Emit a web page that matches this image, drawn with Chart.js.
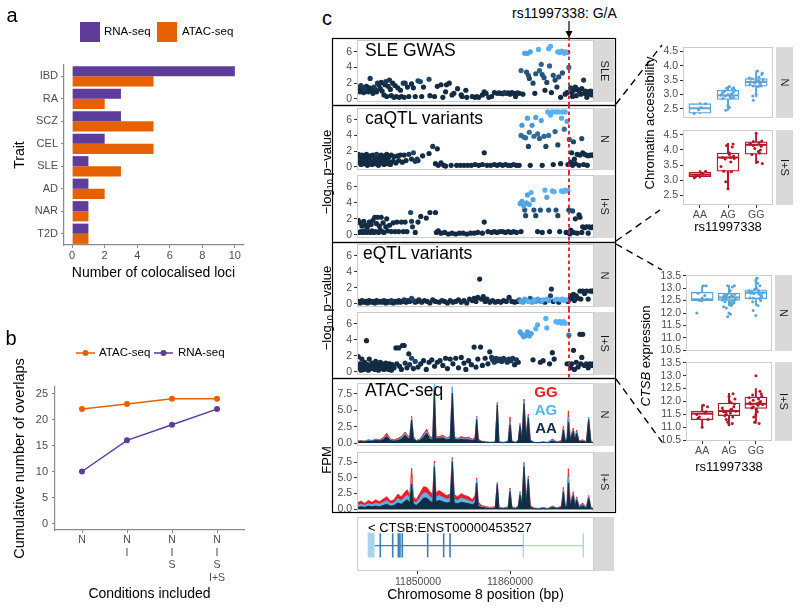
<!DOCTYPE html>
<html>
<head>
<meta charset="utf-8">
<script src="https://cdn.jsdelivr.net/npm/chart.js@4.4.1/dist/chart.umd.min.js"></script>
<style>
html, body { margin: 0; padding: 0; background: #fff; }
#fig { position: relative; width: 800px; height: 609px; overflow: hidden; font-family: "Liberation Sans", Arial, sans-serif; color: #000; }
#fig canvas { position: absolute; }
.lbl { position: absolute; white-space: nowrap; line-height: 1; }
.lbl sub { font-size: 70%; vertical-align: -0.25em; line-height: 0; }
</style>
</head>
<body>
<div id="fig"></div>
<script>
// ---------- panel a ----------
const traits = ['IBD', 'RA', 'SCZ', 'CEL', 'SLE', 'AD', 'NAR', 'T2D'];
const rnaLoci = [10, 3, 3, 2, 1, 1, 1, 1];
const atacLoci = [5, 2, 5, 5, 3, 2, 1, 1];
const lociTicks = [0, 2, 4, 6, 8, 10];

// ---------- panel b ----------
const conditions = [['N'], ['N', 'I'], ['N', 'I', 'S'], ['N', 'I', 'S', 'I+S']];
const atacOverlaps = [22, 23, 24, 24];
const rnaOverlaps = [10, 16, 19, 22];
const overlapTicks = [0, 5, 10, 15, 20, 25];

// ---------- panel c : locus ----------
const snpName = 'rs11997338';
const snpPos = 11866410;
const posTicks = [11850000, 11860000];
const logpTicks = [0, 2, 4, 6];
const fpmTicks = [0, 2.5, 5, 7.5];

// [position (kb), -log10 p, r2 with lead variant]
const gwasSLE = [
  [11843.5,1.2,0],[11843.6,1.5,0],[11843.7,0.9,0],[11843.8,1.7,0.1],[11843.9,1.1,0],[11844.0,1.4,0],[11844.1,0.8,0],
  [11844.2,1.3,0.1],[11844.3,1.0,0],[11844.4,1.6,0],[11844.5,1.2,0],[11844.6,0.9,0],[11844.7,1.4,0],[11844.8,2.6,0.1],
  [11844.9,1.1,0],[11845.0,1.3,0],[11845.1,0.7,0],[11845.2,1.5,0.1],[11845.35,1.2,0],[11845.5,0.9,0],[11845.6,2.0,0.1],
  [11845.75,1.8,0],[11845.9,1.3,0],[11846.0,2.1,0],[11846.1,1.0,0],[11846.3,0.5,0],[11846.4,1.8,0],[11846.5,2.2,0.1],
  [11846.6,0.3,0],[11846.75,1.6,0],[11846.9,2.4,0.1],[11847.0,1.2,0],[11847.1,0.4,0],[11847.25,2.0,0],[11847.4,0.2,0],
  [11847.5,1.7,0],[11847.65,0.3,0],[11847.8,1.4,0],[11847.95,0.2,0],[11848.1,1.1,0],[11848.2,0.3,0],[11848.4,2.0,0.1],
  [11848.5,0.2,0],[11848.6,2.0,0.1],[11848.85,1.5,0],[11849.0,0.3,0],[11849.3,1.9,0],[11849.5,1.4,0],[11849.7,0.3,0],
  [11850.0,2.3,0.2],[11850.25,2.2,0.2],[11850.4,0.3,0],[11850.6,1.5,0],[11851.2,2.5,0.2],[11851.3,0.4,0],[11851.8,0.3,0],
  [11852.1,1.6,0],[11852.5,1.8,0],[11852.7,0.2,0],[11853.0,0.9,0],[11853.1,1.8,0],[11853.4,2.0,0],[11853.7,0.5,0],
  [11853.9,0.7,0],[11854.3,1.3,0],[11854.7,0.5,0],[11854.8,0.3,0],[11855.2,1.1,0],[11855.3,0.2,0],[11855.9,0.3,0],
  [11856.2,0.2,0],[11856.4,0.3,0],[11856.6,0.2,0],[11857.0,0.5,0],[11857.2,0.9,0],[11857.4,0.7,0],[11857.7,0.2,0],
  [11858.0,0.3,0],[11858.3,0.8,0],[11858.6,0.7,0],[11858.8,0.75,0],[11859.0,0.7,0],[11859.2,0.65,0],[11859.4,0.8,0.1],
  [11859.6,0.7,0],[11859.8,0.75,0],[11860.0,0.6,0],[11860.2,0.8,0],[11860.4,0.7,0],[11860.6,0.3,0],[11860.8,0.75,0],
  [11861.0,0.7,0],[11861.2,3.6,0.4],[11861.4,0.6,0],[11861.6,5.8,0.9],[11861.8,3.4,0.3],[11861.9,5.8,0.9],[11862.0,3.0,0.3],
  [11862.1,2.6,0.2],[11862.2,6.0,0.9],[11862.5,2.0,0.2],[11862.7,0.7,0],[11862.8,3.2,0.3],[11863.1,6.3,1],[11863.2,3.6,0.4],
  [11863.4,4.4,0.4],[11863.5,3.1,0.3],[11863.7,2.7,0.3],[11863.8,1.1,0],[11864.0,2.1,0.2],[11864.2,6.4,1],[11864.3,4.2,0.4],
  [11864.4,6.7,1],[11864.5,0.8,0],[11864.7,3.0,0.3],[11864.9,2.4,0.2],[11865.1,1.5,0.1],[11865.2,6.0,1],[11865.3,2.8,0.3],
  [11865.4,5.9,1],[11865.5,0.2,0],[11865.6,6.1,1],[11865.7,3.3,0.3],[11865.8,6.0,1],[11865.9,5.8,1],[11866.0,0.6,0],
  [11866.1,6.0,1],[11866.2,0.8,0],[11866.3,5.9,1],[11866.4,4.0,0.5],[11866.6,1.4,0.1],[11866.7,0.8,0],[11866.8,0.3,0],
  [11866.9,1.1,0],[11867.1,1.5,0],[11867.2,0.4,0],[11867.3,1.2,0],[11867.5,1.0,0],[11867.7,0.6,0],[11867.8,1.3,0],
  [11868.0,2.4,0.1],[11868.1,0.7,0],[11868.2,1.0,0],[11868.35,0.2,0],[11868.5,0.9,0],[11868.6,0.6,0],[11868.75,1.0,0],
  [11868.9,0.5,0],[11869.0,0.9,0]
];

const caqtlN = [
  [11843.5,1.6,0],[11843.6,0.6,0],[11843.7,1.2,0],[11843.8,0.3,0],[11843.9,1.5,0],[11844.0,0.9,0],[11844.1,0.4,0],
  [11844.2,1.3,0],[11844.3,0.7,0],[11844.4,1.6,0],[11844.5,0.2,0],[11844.6,1.1,0],[11844.7,0.5,0],[11844.8,1.4,0],
  [11844.9,0.8,0],[11845.0,0.3,0],[11845.1,1.5,0],[11845.2,0.6,0],[11845.3,1.2,0],[11845.4,0.4,0],[11845.5,1.6,0.1],
  [11845.6,0.9,0],[11845.7,0.2,0],[11845.8,1.3,0],[11845.9,0.7,0],[11846.0,1.5,0],[11846.1,0.5,0],[11846.2,1.1,0],
  [11846.3,0.3,0],[11846.4,1.4,0],[11846.5,0.8,0],[11846.6,1.6,0],[11846.7,0.4,0],[11846.8,1.2,0],[11846.9,0.6,0],
  [11847.0,0.3,0],[11847.1,1.5,0],[11847.3,0.7,0],[11847.4,1.3,0],[11847.6,0.5,0],[11847.8,1.4,0],[11847.9,0.8,0],
  [11848.1,1.5,0],[11848.3,0.6,0],[11848.5,1.5,0],[11848.7,0.8,0],[11849.0,1.6,0.1],[11849.3,1.0,0],[11849.5,1.8,0.2],
  [11849.7,0.7,0.1],[11849.9,1.0,0.1],[11850.0,0.8,0],[11850.5,1.4,0],[11851.2,1.7,0],[11851.6,2.6,0.1],[11852.1,2.3,0],
  [11851.9,0.4,0],[11852.2,0.2,0],[11852.5,0.5,0],[11852.8,0.2,0],[11853.0,0.1,0],[11853.6,0.2,0],[11854.2,0.2,0],
  [11854.6,0.2,0],[11855.0,0.2,0],[11855.4,0.2,0],[11855.8,0.2,0],[11856.2,0.3,0],[11856.6,0.2,0],[11857.0,0.3,0],
  [11857.2,1.8,0],[11857.5,0.2,0],[11857.9,0.2,0],[11858.3,0.3,0],[11858.6,0.2,0],[11858.9,0.3,0],[11859.2,0.2,0],
  [11859.5,0.3,0],[11859.8,0.2,0],[11860.1,0.2,0],[11860.4,0.3,0],[11860.7,0.2,0],[11861.0,0.2,0],
  [11861.2,4.0,0.5],[11861.3,5.3,0.8],[11861.5,3.8,0.5],[11861.7,3.7,0.5],[11861.9,6.2,0.9],[11862.0,2.6,0.2],
  [11862.1,4.4,0.5],[11862.2,0.2,0],[11862.4,5.3,0.8],[11862.6,3.9,0.5],[11862.8,6.3,0.9],[11863.0,4.2,0.5],
  [11863.2,3.6,0.4],[11863.4,5.9,0.9],[11863.5,0.2,0],[11863.7,3.9,0.4],[11863.9,2.6,0.2],[11864.1,7.0,1],
  [11864.2,4.0,0.5],[11864.4,6.6,1],[11864.6,7.0,1],[11864.7,0.3,0],[11864.9,4.5,0.4],[11865.0,7.0,1],
  [11865.2,2.8,0.2],[11865.3,7.0,1],[11865.5,0.4,0],[11865.6,6.2,1],[11865.7,7.0,1],[11865.9,4.8,0.5],
  [11866.0,7.0,1],[11866.2,5.8,0.9],[11866.3,0.3,0],[11866.45,3.5,0.4],
  [11866.6,0.6,0],[11866.7,1.8,0],[11866.8,0.2,0],[11866.9,3.2,0.2],[11867.0,1.0,0],[11867.1,0.4,0],[11867.3,1.6,0],
  [11867.5,0.2,0],[11867.6,1.5,0],[11867.8,3.6,0.2],[11867.9,1.8,0],[11868.0,0.3,0],[11868.1,1.6,0],[11868.3,1.5,0],
  [11868.4,0.2,0],[11868.5,1.4,0],[11868.7,1.5,0],[11868.9,1.5,0],[11869.0,1.5,0]
];

const caqtlIS = [
  [11843.5,1.8,0],[11843.6,0.3,0],[11843.7,1.5,0],[11843.8,0.4,0],[11843.9,1.1,0],[11844.0,0.3,0],[11844.1,1.7,0],
  [11844.2,0.5,0],[11844.3,1.2,0],[11844.4,0.3,0],[11844.5,1.0,0],[11844.6,0.4,0],[11844.7,1.6,0],[11844.8,0.3,0],
  [11844.9,1.3,0],[11845.0,0.5,0],[11845.1,1.8,0],[11845.2,0.3,0],[11845.3,2.2,0],[11845.4,0.4,0],[11845.5,1.4,0],
  [11845.6,2.2,0],[11845.7,0.3,0],[11845.8,1.1,0],[11845.9,0.6,0],[11846.0,2.2,0],[11846.1,0.4,0],[11846.2,1.5,0],
  [11846.3,0.3,0],[11846.5,1.0,0],[11846.6,2.0,0],[11846.7,0.5,0],[11846.9,1.2,0],[11847.1,0.4,0],[11847.3,1.5,0],
  [11847.5,0.4,0],[11847.7,1.6,0],[11847.9,0.4,0],[11848.2,1.6,0],[11848.4,0.4,0],[11848.6,1.6,0],[11848.8,0.4,0],
  [11849.2,2.8,0.2],[11849.3,1.7,0.1],[11849.4,1.0,0.1],[11849.7,0.3,0],[11850.0,1.6,0],[11850.3,2.3,0],[11850.9,2.1,0],
  [11851.3,2.8,0],[11851.9,2.8,0],[11852.0,0.3,0],[11852.2,0.5,0],[11852.5,0.2,0],[11852.9,0.3,0],[11853.3,0.1,0],
  [11853.7,0.2,0],[11854.1,0.1,0],[11854.5,0.2,0],[11854.9,0.2,0],[11855.3,0.1,0],[11855.7,0.2,0],[11856.1,0.2,0],
  [11856.5,0.3,0],[11857.2,1.6,0],[11857.0,0.2,0],[11857.6,0.4,0],[11858.0,0.3,0],[11858.3,0.4,0],[11858.6,0.3,0],
  [11858.9,0.4,0],[11859.2,0.4,0],[11859.5,0.3,0],[11859.8,0.4,0],[11860.1,0.3,0],[11860.4,0.4,0],[11860.7,0.3,0],
  [11861.1,3.9,0.9],[11861.2,0.4,0],[11861.3,4.2,0.9],[11861.5,3.6,0.9],[11861.6,3.1,0.3],[11861.7,2.4,0.2],
  [11861.8,4.0,0.9],[11861.9,5.0,0.9],[11862.1,3.8,0.9],[11862.3,5.3,1],[11862.5,4.4,0.9],[11862.6,3.1,0.3],
  [11862.8,2.4,0.2],[11863.0,0.4,0],[11863.3,3.1,0.3],[11863.5,0.3,0],[11863.8,5.6,1],[11864.0,4.7,0.9],
  [11864.2,3.1,0.3],[11864.3,0.4,0],[11864.6,5.5,1],[11864.8,5.4,1],[11865.0,3.1,0.3],[11865.2,2.4,0.2],
  [11865.4,0.4,0],[11865.6,5.5,1],[11865.8,5.4,1],[11866.0,5.6,1],[11866.1,0.3,0],[11866.3,5.5,1],[11866.4,3.1,0.2],
  [11866.5,0.1,0],[11866.6,0.6,0],[11866.8,3.0,0.2],[11866.9,0.3,0],[11867.1,2.0,0],[11867.3,0.2,0],[11867.5,2.5,0],
  [11867.6,2.2,0],[11867.8,0.3,0],[11867.9,1.0,0],[11868.1,0.9,0],[11868.3,1.0,0],[11868.5,0.2,0],[11868.6,1.0,0],
  [11868.8,0.9,0],[11869.0,1.0,0]
];

const eqtlN = [
  [11843.5,0.3,0],[11843.7,0.1,0],[11843.9,0.4,0],[11844.1,0.2,0],[11844.3,0.3,0],[11844.5,0.1,0],[11844.7,0.4,0],
  [11844.9,0.2,0],[11845.1,0.3,0],[11845.3,0.1,0],[11845.5,0.4,0],[11845.7,0.2,0],[11845.9,0.3,0],[11846.1,0.2,0],
  [11846.3,0.4,0],[11846.5,0.1,0],[11846.7,0.3,0],[11846.9,0.2,0],[11847.1,0.4,0.1],[11847.3,0.1,0],[11847.5,0.3,0],
  [11847.7,0.2,0],[11847.9,0.4,0],[11848.1,0.2,0],[11848.3,0.3,0],[11848.5,0.5,0.1],[11848.7,0.2,0],[11848.9,0.4,0],
  [11849.1,0.3,0],[11849.3,0.7,0.2],[11849.5,0.4,0.1],[11849.7,0.2,0],[11849.9,0.3,0],[11850.1,0.5,0],[11850.4,0.2,0],
  [11850.7,0.4,0],[11851.0,0.3,0],[11851.3,0.1,0],[11851.6,0.5,0],[11851.9,0.3,0],[11852.3,0.2,0],[11852.6,0.4,0],
  [11852.9,0.3,0],[11853.2,0.1,0],[11853.5,0.4,0],[11853.8,0.2,0],[11854.1,0.3,0],[11854.4,0.5,0],[11854.7,0.2,0],
  [11855.0,0.4,0],[11855.3,0.1,0],[11855.6,0.6,0],[11855.9,0.4,0],[11856.1,0.7,0],[11856.3,0.3,0],[11856.5,0.8,0],
  [11856.7,3.1,0],[11856.9,0.6,0],[11857.1,0.9,0],[11857.3,0.3,0],[11857.5,0.6,0],[11857.8,0.2,0],[11858.1,0.4,0],
  [11858.4,0.2,0],[11858.7,0.3,0],[11859.0,0.2,0],[11859.3,0.4,0],[11859.6,0.3,0],[11859.9,0.8,0],[11860.2,0.3,0],
  [11860.5,0.2,0],[11860.8,0.3,0],[11861.0,0.5,0.5],[11861.2,0.3,0.9],[11861.4,0.2,0.8],[11861.6,0.6,0.9],
  [11861.8,0.4,0.9],[11862.0,0.3,1],[11862.2,0.7,0.3],[11862.4,0.2,0.9],[11862.6,0.5,1],[11862.8,0.3,0.9],
  [11863.0,0.6,0.9],[11863.2,0.4,0.2],[11863.4,0.3,0.9],[11863.6,0.5,1],[11863.8,0.2,0],[11864.0,0.6,1],
  [11864.2,0.4,0.9],[11864.4,1.0,0.2],[11864.5,1.85,0.1],[11864.7,0.3,0],[11864.9,0.5,1],[11865.1,0.6,1],
  [11865.3,0.2,0],[11865.5,0.5,1],[11865.7,0.6,1],[11865.9,0.4,1],[11866.1,0.5,1],[11866.3,0.3,0],
  [11866.5,0.6,0],[11866.6,1.0,0],[11866.7,0.8,0],[11866.9,1.2,0],[11867.0,0.4,0],[11867.2,1.0,0],[11867.4,0.7,0],
  [11867.6,1.6,0],[11867.7,0.6,0],[11867.9,1.6,0],[11868.1,1.3,0],[11868.3,1.6,0],[11868.5,0.6,0],[11868.7,1.6,0],
  [11868.9,1.6,0],[11869.05,1.6,0]
];

const eqtlIS = [
  [11843.5,1.9,0],[11843.6,0.5,0],[11843.7,1.0,0],[11843.8,0.2,0],[11843.9,1.6,0],[11844.0,0.8,0],[11844.1,0.3,0],
  [11844.2,1.2,0],[11844.3,0.6,0],[11844.4,3.9,0],[11844.5,0.9,0],[11844.6,0.2,0],[11844.7,1.6,0],[11844.8,0.7,0],
  [11844.9,0.4,0],[11845.0,1.1,0],[11845.1,0.5,0],[11845.2,0.9,0],[11845.3,0.3,0],[11845.4,1.3,0],[11845.5,0.6,0],
  [11845.6,1.0,0],[11845.7,0.2,0],[11845.8,0.8,0],[11845.9,1.2,0],[11846.0,0.4,0],[11846.1,1.0,0],[11846.2,0.6,0],
  [11846.3,0.3,0],[11846.4,0.9,0],[11846.5,1.1,0],[11846.6,0.5,0],[11846.7,0.8,0],[11846.8,0.3,0],[11846.9,1.0,0],
  [11847.0,0.6,0],[11847.1,0.2,0],[11847.2,0.9,0],[11847.4,0.5,0],[11847.6,3.0,0],[11847.7,1.0,0],[11847.9,3.0,0],
  [11848.0,0.7,0],[11848.2,0.3,0],[11848.3,3.3,0],[11848.5,3.3,0],[11848.6,1.1,0.1],[11848.8,0.5,0],[11849.0,2.25,0],
  [11849.1,0.9,0.1],[11849.3,1.7,0.2],[11849.5,0.4,0],[11849.7,1.3,0.2],[11850.0,0.6,0],[11850.3,1.0,0],[11850.6,1.4,0],
  [11850.9,0.3,0],[11851.2,1.2,0],[11851.5,1.5,0],[11851.8,0.7,0],[11852.1,1.2,0],[11852.4,1.4,0],[11852.7,0.8,0],
  [11853.0,1.7,0],[11853.2,0.4,0],[11853.5,1.6,0],[11853.8,1.0,0],[11854.1,1.7,0],[11854.4,0.5,0],[11854.7,1.8,0],
  [11855.0,1.1,0],[11855.2,0.3,0],[11855.5,1.4,0],[11855.8,0.9,0],[11856.1,3.1,0],[11856.3,0.6,0],[11856.5,1.6,0],
  [11856.8,3.1,0],[11857.0,0.8,0],[11857.3,1.7,0],[11857.6,1.0,0],[11857.8,2.5,0],[11858.0,1.8,0.1],[11858.1,1.5,0.1],
  [11858.3,1.2,0.1],[11858.5,1.7,0.1],[11858.7,1.4,0.1],[11858.9,1.6,0.1],[11859.1,1.3,0.1],[11859.3,1.7,0.1],
  [11859.5,1.5,0.1],[11859.7,1.2,0.1],[11859.9,1.6,0.1],[11860.1,1.4,0.1],[11860.3,1.7,0.1],[11860.5,0.9,0],
  [11860.7,1.5,0.1],[11860.9,1.2,0],
  [11861.1,5.0,0.9],[11861.3,4.7,0.9],[11861.5,4.4,0.9],[11861.7,4.6,0.9],[11861.9,5.0,0.9],[11862.1,4.5,0.9],
  [11862.3,4.8,0.9],[11862.5,1.5,0],[11862.8,5.4,1],[11863.0,5.9,1],[11863.3,1.2,0],[11863.6,1.4,0],[11863.9,6.7,1],
  [11864.0,5.5,1],[11864.3,1.0,0],[11864.6,2.4,0],[11864.8,1.6,0],[11865.0,6.3,1],[11865.2,6.2,1],[11865.4,6.3,1],
  [11865.6,6.1,1],[11865.8,6.3,1],[11866.0,6.1,1],[11866.2,1.0,0],[11866.4,4.6,0.6],
  [11866.6,0.5,0],[11866.7,1.0,0],[11866.9,2.7,0],[11867.0,0.3,0],[11867.2,1.2,0],[11867.4,0.6,0],[11867.6,4.7,0],
  [11867.7,1.0,0],[11867.8,1.8,0],[11867.9,4.7,0],[11868.1,0.8,0],[11868.3,1.0,0],[11868.5,0.5,0],[11868.7,1.0,0],
  [11868.9,0.8,0],[11869.05,1.0,0]
];

// ATAC-seq coverage (FPM) by genotype, at positions in kb
const atacPos = [
  11843.4,11843.8,11844.2,11844.6,11845.0,11845.4,11845.8,11846.2,11846.6,11847.0,
  11847.4,11847.8,11848.2,11848.6,11848.84,11849.1,11849.31,11849.5,11849.8,11850.2,
  11850.6,11850.94,11851.3,11851.6,11851.78,11851.95,11852.3,11852.7,11853.1,11853.5,
  11853.73,11853.95,11854.3,11854.7,11855.1,11855.5,11855.9,11856.2,11856.38,11856.55,
  11856.9,11857.4,11857.9,11858.4,11858.62,11858.8,11859.3,11859.8,11860.0,11860.2,
  11860.6,11860.9,11861.09,11861.3,11861.52,11861.75,11861.99,11862.2,11862.6,11863.1,
  11863.6,11864.1,11864.6,11865.1,11865.6,11865.8,11866.0,11866.2,11866.34,11866.55,
  11866.88,11867.05,11867.25,11867.5,11867.9,11868.3,11868.55,11868.8,11869.1
];
const atacN_GG = [
  0.3,0.4,0.3,0.5,0.4,0.6,0.5,0.8,1.5,0.6, 0.5,0.7,1.0,1.7,1.2,0.9,4.1,1.0,0.4,0.6,
  1.4,2.1,1.0,0.8,8.6,0.9,1.0,1.2,0.8,1.0, 8.5,0.9,0.7,1.0,0.8,0.9,0.6,0.8,4.1,0.6,
  0.3,0.2,0.1,0.2,6.2,0.2,0.1,0.3,4.0,0.3, 0.1,0.5,3.0,0.8,6.7,1.2,4.4,0.5,0.1,0.1,
  0.2,0.1,0.6,0.2,0.4,2.6,0.5,0.8,4.9,0.8, 2.3,0.8,2.0,0.3,0.5,0.2,3.9,0.2,0.1
];
const atacN_AG = [
  0.25,0.3,0.3,0.4,0.35,0.5,0.4,0.6,1.2,0.5, 0.4,0.5,0.8,1.5,1.0,0.8,3.9,0.9,0.3,0.5,
  1.1,1.8,0.8,0.6,9.3,0.7,0.8,1.0,0.7,0.8, 8.6,0.7,0.6,0.8,0.6,0.7,0.5,0.6,4.0,0.5,
  0.2,0.15,0.1,0.1,5.9,0.1,0.1,0.2,3.3,0.2, 0.1,0.4,2.8,0.6,6.4,1.0,4.2,0.4,0.1,0.05,
  0.1,0.1,0.5,0.1,0.3,2.3,0.4,0.6,4.0,0.6, 2.0,0.7,1.7,0.2,0.4,0.1,3.8,0.1,0.1
];
const atacN_AA = [
  0.2,0.25,0.2,0.3,0.3,0.4,0.35,0.5,1.0,0.4, 0.3,0.4,0.6,1.2,0.8,0.6,3.5,0.7,0.3,0.4,
  0.9,1.5,0.6,0.5,8.0,0.6,0.7,0.8,0.5,0.6, 7.6,0.6,0.5,0.6,0.5,0.5,0.4,0.5,3.6,0.4,
  0.2,0.1,0.1,0.1,5.8,0.1,0.05,0.2,2.8,0.2, 0.1,0.3,2.6,0.5,6.0,0.8,3.9,0.3,0.1,0.05,
  0.1,0.05,0.3,0.1,0.2,2.0,0.3,0.5,3.2,0.5, 1.8,0.5,1.5,0.2,0.3,0.1,3.6,0.1,0.05
];
const atacIS_GG = [
  1.0,1.3,0.9,1.4,1.1,1.5,1.2,1.6,2.0,1.3, 1.5,2.4,2.0,2.8,3.1,2.2,6.6,2.0,1.5,2.5,
  3.6,3.5,2.8,2.4,7.7,2.6,3.0,2.6,2.2,2.4, 8.3,2.3,2.0,2.5,2.2,2.0,1.5,2.2,5.0,1.2,
  0.6,0.4,0.3,0.4,4.3,0.3,0.2,0.4,3.4,0.4, 0.2,0.6,2.8,1.0,7.5,1.5,5.3,0.6,0.2,0.1,
  0.3,0.1,0.5,0.2,0.5,3.5,0.6,1.0,6.5,1.0, 2.8,0.8,2.0,0.5,1.0,0.3,2.2,0.3,0.1
];
const atacIS_AG = [
  0.6,0.8,0.6,0.9,0.7,1.0,0.8,1.1,1.4,0.9, 1.0,1.7,1.4,2.0,2.3,1.6,5.0,1.4,1.0,1.8,
  2.6,2.6,2.0,1.7,7.3,1.9,2.2,1.9,1.6,1.7, 8.0,1.6,1.4,1.8,1.6,1.4,1.1,1.6,4.8,0.8,
  0.4,0.3,0.2,0.3,4.2,0.2,0.1,0.3,3.2,0.3, 0.1,0.4,2.6,0.8,7.3,1.2,5.1,0.4,0.1,0.1,
  0.2,0.1,0.4,0.1,0.4,3.2,0.5,0.8,5.2,0.8, 2.5,0.6,1.8,0.3,0.8,0.2,2.0,0.2,0.1
];
const atacIS_AA = [
  0.3,0.4,0.3,0.5,0.4,0.5,0.4,0.6,0.8,0.5, 0.6,1.0,0.8,1.3,1.5,1.0,4.0,0.9,0.6,1.1,
  1.8,1.8,1.3,1.0,6.8,1.2,1.4,1.2,1.0,1.1, 7.6,1.0,0.9,1.1,1.0,0.9,0.7,1.0,4.2,0.5,
  0.3,0.2,0.1,0.2,4.0,0.1,0.1,0.2,2.8,0.2, 0.1,0.3,2.3,0.6,6.8,1.0,4.8,0.3,0.1,0.05,
  0.1,0.05,0.3,0.1,0.3,2.8,0.3,0.6,4.2,0.6, 2.2,0.4,1.5,0.2,0.6,0.1,1.8,0.1,0.05
];

// transcript model (kb)
const geneName = '< CTSB:ENST00000453527';
const utrBox = [11844.5, 11845.3];
const codingSpan = [11845.3, 11861.45];
const codingExons = [11845.9, 11847.25, 11847.86, 11848.04, 11848.29, 11851.05, 11852.79, 11853.48];
const otherSpan = [11861.45, 11867.97];
const otherExons = [11861.45, 11867.97];

// ---------- boxplots ----------
const genotypes = ['AA', 'AG', 'GG'];
// [lower whisker, Q1, median, Q3, upper whisker]
const caBoxN = [[2.33, 2.35, 2.52, 2.68, 2.72], [2.45, 2.83, 2.97, 3.15, 3.28], [2.92, 3.29, 3.44, 3.56, 3.82]];
const caBoxIS = [[3.07, 3.11, 3.18, 3.26, 3.32], [2.72, 3.30, 3.75, 3.90, 4.22], [3.55, 3.86, 4.17, 4.27, 4.56]];
const exBoxN = [[12.45, 12.49, 12.55, 12.83, 13.1], [12.3, 12.51, 12.63, 12.8, 13.1], [12.3, 12.57, 12.82, 12.93, 13.42]];
const exBoxIS = [[11.0, 11.29, 11.53, 11.63, 11.87], [11.1, 11.45, 11.63, 11.94, 12.32], [11.16, 11.73, 11.91, 12.17, 12.5]];
// samples [jitter offset, value] per genotype
const caPtsN = [
  [[-0.2,2.34],[0.2,2.68],[0.05,2.55],[-0.05,2.47]],
  [[-0.2,3.05],[0.15,3.2],[0.05,3.28],[-0.1,2.95],[0.2,2.9],[-0.15,3.1],[0.0,3.0],[0.1,2.88],[-0.25,2.98],[0.25,3.15],
   [-0.05,3.22],[0.12,3.02],[-0.18,2.86],[0.08,2.93],[0.2,3.24],[-0.08,2.45],[0.05,2.55],[0.0,2.62],[-0.12,3.12],[0.18,3.07]],
  [[-0.2,3.45],[0.1,3.6],[0.2,3.7],[-0.1,3.3],[0.0,3.5],[0.15,3.38],[-0.15,3.55],[0.05,3.82],[0.22,3.75],[-0.05,3.4],
   [0.1,3.48],[-0.22,3.35],[0.18,3.3],[-0.12,2.95],[-0.1,2.8],[0.0,3.0],[0.25,3.52],[-0.25,3.58],[0.08,3.28],[0.12,3.42]]
];
const caPtsIS = [
  [[-0.15,3.12],[0.1,3.2],[0.2,3.3],[-0.05,3.16],[0.05,3.25],[-0.2,3.08]],
  [[-0.25,3.45],[0.1,3.75],[0.2,3.8],[-0.1,3.7],[0.05,3.9],[0.15,4.1],[-0.05,4.15],[0.18,4.2],[-0.15,3.3],[0.0,3.25],
   [0.12,3.28],[-0.08,2.95],[0.0,2.72],[0.1,3.6],[-0.2,3.75],[0.22,3.72],[0.05,3.85]],
  [[-0.2,4.2],[0.1,4.25],[0.2,4.3],[-0.1,4.15],[0.0,4.55],[0.15,4.0],[-0.15,3.85],[0.05,3.6],[0.22,3.55],[-0.05,4.05],
   [0.12,3.9],[-0.22,4.22],[0.18,4.12],[0.08,3.95],[-0.1,4.28]]
];
const exPtsN = [
  [[0.05,13.1],[0.15,13.1],[0.1,12.7],[-0.1,12.5],[0.2,12.55],[-0.2,12.0],[0.0,12.6],[-0.15,12.8]],
  [[-0.2,12.6],[0.1,12.7],[0.2,12.5],[-0.1,12.55],[0.0,12.8],[0.15,12.65],[-0.15,12.45],[0.05,12.9],[0.22,12.75],[-0.05,13.1],
   [0.12,13.05],[-0.22,12.6],[0.18,12.4],[0.08,12.3],[-0.1,12.2],[0.0,12.0],[-0.05,11.85],[0.05,11.95],[0.1,12.35],[-0.18,12.7],
   [0.25,12.58],[-0.25,12.52],[0.02,12.62],[0.14,12.48],[-0.12,12.68],[0.2,13.1],[-0.08,12.72],[0.06,12.42],[-0.2,12.25]],
  [[-0.2,12.8],[0.1,12.9],[0.2,12.7],[-0.1,12.6],[0.0,13.3],[0.15,13.1],[-0.15,12.85],[0.05,13.4],[0.22,12.65],[-0.05,12.95],
   [0.12,12.75],[-0.22,12.6],[0.18,12.5],[0.08,12.3],[-0.1,12.1],[0.0,11.9],[0.25,12.82],[-0.25,12.9],[0.02,13.0],[0.14,12.58],
   [-0.12,12.45],[0.06,13.2],[-0.08,12.78]]
];
const exPtsIS = [
  [[-0.2,11.5],[0.1,11.55],[0.2,11.8],[-0.1,11.4],[0.0,11.0],[0.15,11.6],[-0.15,11.35],[0.05,11.85],[0.22,11.3]],
  [[-0.2,11.6],[0.1,11.7],[0.2,11.9],[-0.1,11.5],[0.0,12.2],[0.15,12.3],[-0.15,11.45],[0.05,11.55],[0.22,12.1],[-0.05,11.2],
   [0.12,11.15],[-0.22,11.65],[0.18,11.8],[0.08,11.95],[-0.1,11.3],[0.0,11.1],[0.25,11.62],[-0.25,11.75],[0.02,12.0],[0.14,11.4],
   [-0.12,11.58],[0.06,11.68]],
  [[-0.2,11.9],[0.1,12.1],[0.2,12.3],[-0.1,11.8],[0.0,13.0],[0.15,12.4],[-0.15,11.75],[0.05,11.6],[0.22,12.2],[-0.05,11.2],
   [0.12,11.15],[-0.22,11.95],[0.18,12.0],[0.08,11.85],[-0.1,12.05],[0.0,11.5],[0.25,11.88],[-0.25,12.15],[0.02,11.7],[0.14,11.98],
   [-0.12,12.25],[0.06,11.92],[-0.08,11.4]]
];

// ---------- styling ----------
const FONT = '"Liberation Sans", Arial, Helvetica, sans-serif';
const PURPLE = '#5e3c99', ORANGE = '#e66101';
const GG_COL = '#ec1c24', AG_COL = '#56b4e9', AA_COL = '#132b43';
const N_COL = '#5aa5d8', IS_COL = '#b2182b';
const AXIS = '#8a8a8a', TICK = '#333333', TXT = '#4d4d4d';
const X_MIN = 11843370, X_MAX = 11869130;

Chart.defaults.font.family = FONT;
Chart.defaults.color = TXT;
Chart.defaults.animation = false;

const fig = document.getElementById('fig');
const kb = v => v * 1000;

function ldColour(r) {
  const lo = [19, 43, 67], hi = [86, 177, 247];
  const c = lo.map((v, i) => Math.round(v + (hi[i] - v) * r));
  return `rgb(${c[0]},${c[1]},${c[2]})`;
}

function mkCanvas(area, o) {
  const c = document.createElement('canvas');
  const left = area[0] - o.yW, top = area[1] - o.padT;
  const w = area[2] - left + o.padR, h = area[3] - top + o.xH + o.padB;
  c.width = w; c.height = h;
  c.style.left = left + 'px'; c.style.top = top + 'px';
  c.style.width = w + 'px'; c.style.height = h + 'px';
  fig.appendChild(c);
  return c;
}

function baseOpts(o) {
  return {
    responsive: false, animation: false, devicePixelRatio: 1, events: [],
    layout: {padding: {left: 0, top: o.padT, right: o.padR, bottom: o.padB}},
    plugins: {legend: {display: false}, tooltip: {enabled: false}}
  };
}

function yAxis(min, max, ticks, yW, fmt, size) {
  return {
    type: 'linear', min: min, max: max,
    afterBuildTicks: s => { s.ticks = ticks.map(v => ({value: v})); },
    afterFit: s => { s.width = yW; },
    ticks: {autoSkip: false, padding: 2, color: TXT, font: {size: size || 10.5}, callback: fmt || (v => String(v))},
    grid: {drawOnChartArea: false, tickLength: 3, color: TICK},
    border: {display: false}
  };
}

function label(text, x, y, o) {
  o = o || {};
  const d = document.createElement('div');
  d.className = 'lbl';
  if (o.html) d.innerHTML = text; else d.textContent = text;
  d.style.left = x + 'px'; d.style.top = y + 'px';
  d.style.fontSize = (o.size || 13) + 'px';
  if (o.bold) d.style.fontWeight = 'bold';
  if (o.color) d.style.color = o.color;
  const ax = o.align === 'left' ? '0' : '-50%';
  d.style.transform = 'translate(' + ax + ',-50%)' + (o.rot ? ' rotate(' + o.rot + 'deg)' : '');
  fig.appendChild(d);
}

// panel border, facet strip and SNP marker
const panelDeco = {
  id: 'panelDeco',
  afterDraw(chart, args, opts) {
    const ctx = chart.ctx, a = chart.chartArea;
    ctx.save();
    if (opts.stripW) {
      const x0 = a.right + (opts.stripGap || 0);
      ctx.fillStyle = '#d9d9d9';
      ctx.fillRect(x0, a.top, opts.stripW, a.bottom - a.top);
      if (opts.strip) {
        ctx.translate(x0 + opts.stripW / 2, (a.top + a.bottom) / 2);
        ctx.rotate(Math.PI / 2);
        ctx.fillStyle = '#1a1a1a';
        ctx.font = '11px ' + FONT;
        ctx.textAlign = 'center'; ctx.textBaseline = 'middle';
        ctx.fillText(opts.strip, 0, 0);
      }
    }
    ctx.restore();
    if (opts.border) {
      ctx.save();
      ctx.strokeStyle = opts.border; ctx.lineWidth = 1;
      ctx.strokeRect(Math.round(a.left) + 0.5, Math.round(a.top) + 0.5, Math.round(a.right - a.left) - 1, Math.round(a.bottom - a.top) - 1);
      ctx.restore();
    }
    if (opts.vline) {
      const x = chart.scales.x.getPixelForValue(opts.vline);
      ctx.save();
      ctx.strokeStyle = '#e41a1c'; ctx.lineWidth = 1.8; ctx.setLineDash([3.5, 3]);
      ctx.beginPath(); ctx.moveTo(x, a.top - 3); ctx.lineTo(x, a.bottom + 3); ctx.stroke();
      ctx.restore();
    }
  }
};

// legend drawn from the datasets
const legendDeco = {
  id: 'legendDeco',
  afterDraw(chart, args, opts) {
    const ctx = chart.ctx;
    ctx.save();
    ctx.font = '11.5px ' + FONT;
    ctx.textBaseline = 'middle';
    chart.data.datasets.forEach((ds, i) => {
      const x = opts.xs[i], col = ds.backgroundColor;
      if (opts.kind === 'box') {
        ctx.fillStyle = col;
        ctx.fillRect(x, opts.y - 10, 20, 20);
      } else {
        ctx.strokeStyle = col; ctx.lineWidth = 1.5;
        ctx.beginPath(); ctx.moveTo(x, opts.y); ctx.lineTo(x + 19, opts.y); ctx.stroke();
        ctx.fillStyle = col;
        ctx.beginPath(); ctx.arc(x + 9.5, opts.y, 3, 0, Math.PI * 2); ctx.fill();
      }
      ctx.fillStyle = '#000';
      ctx.fillText(ds.label, opts.txs[i], opts.y);
    });
    ctx.restore();
  }
};

// ---------- decorations behind the charts ----------
const deco = document.createElement('div');
deco.innerHTML =
  '<svg width="800" height="609" style="position:absolute;left:0;top:0">' +
  '<g fill="none" stroke="#000" stroke-width="1.2">' +
  '<rect x="332.5" y="38.5" width="283" height="67"/>' +
  '<rect x="332.5" y="105.5" width="283" height="137"/>' +
  '<rect x="332.5" y="242.5" width="283" height="136"/>' +
  '<rect x="332.5" y="378.5" width="283" height="134"/></g>' +
  '<g stroke="#000" stroke-width="1.4" stroke-dasharray="7 5">' +
  '<line x1="616" y1="104" x2="662" y2="45"/>' +
  '<line x1="616" y1="241" x2="660" y2="210"/>' +
  '<line x1="616" y1="244" x2="662" y2="270"/>' +
  '<line x1="616" y1="379" x2="662" y2="442"/></g>' +
  '<line x1="569" y1="21" x2="569" y2="32" stroke="#000" stroke-width="1.2"/>' +
  '<polygon points="565.5,31 572.5,31 569,38" fill="#000"/>' +
  '</svg>';
fig.appendChild(deco);

// ---------- panel a ----------
const oA = {yW: 64, padT: 50, padR: 7, padB: 0, xH: 37};
new Chart(mkCanvas([64, 65, 243, 245], oA), {
  type: 'bar',
  data: {
    labels: traits,
    datasets: [
      {label: 'RNA-seq', data: rnaLoci, backgroundColor: PURPLE, categoryPercentage: 0.9, barPercentage: 1},
      {label: 'ATAC-seq', data: atacLoci, backgroundColor: ORANGE, categoryPercentage: 0.9, barPercentage: 1}
    ]
  },
  options: Object.assign(baseOpts(oA), {
    indexAxis: 'y',
    scales: {
      x: {
        type: 'linear', min: -0.5, max: 10.5,
        afterBuildTicks: s => { s.ticks = lociTicks.map(v => ({value: v})); },
        afterFit: s => { s.height = oA.xH; },
        ticks: {autoSkip: false, maxRotation: 0, padding: 1, font: {size: 11}, color: TXT},
        grid: {drawOnChartArea: false, tickLength: 3, color: AXIS},
        border: {color: AXIS, width: 1.2},
        title: {display: true, text: 'Number of colocalised loci', font: {size: 14}, color: '#000', padding: 0}
      },
      y: {
        type: 'category', offset: true,
        afterFit: s => { s.width = oA.yW; },
        ticks: {padding: 3, font: {size: 11}, color: TXT},
        grid: {offset: false, drawOnChartArea: false, tickLength: 3, color: AXIS},
        border: {color: AXIS, width: 1.2},
        title: {display: true, text: 'Trait', font: {size: 14}, color: '#000', padding: {top: 11.6, bottom: 0}}
      }
    },
    plugins: {legend: {display: false}, tooltip: {enabled: false}, legendDeco: {kind: 'box', y: 17, xs: [80, 157], txs: [104, 182]}}
  }),
  plugins: [legendDeco]
});

// ---------- panel b ----------
const oB = {yW: 55, padT: 47, padR: 6, padB: 0, xH: 73};
new Chart(mkCanvas([55, 387, 244, 530], oB), {
  type: 'line',
  data: {
    datasets: [
      {label: 'ATAC-seq', data: atacOverlaps.map((v, i) => ({x: i + 1, y: v})), borderColor: ORANGE, backgroundColor: ORANGE,
       borderWidth: 1.5, pointRadius: 3, pointBorderWidth: 0},
      {label: 'RNA-seq', data: rnaOverlaps.map((v, i) => ({x: i + 1, y: v})), borderColor: PURPLE, backgroundColor: PURPLE,
       borderWidth: 1.5, pointRadius: 3, pointBorderWidth: 0}
    ]
  },
  options: Object.assign(baseOpts(oB), {
    scales: {
      x: {
        type: 'linear', min: 0.4, max: 4.6,
        afterBuildTicks: s => { s.ticks = conditions.map((c, i) => ({value: i + 1})); },
        afterFit: s => { s.height = oB.xH; },
        ticks: {autoSkip: false, maxRotation: 0, padding: 1, font: {size: 10.5}, color: TXT, callback: v => conditions[v - 1]},
        grid: {drawOnChartArea: false, tickLength: 3, color: AXIS},
        border: {color: AXIS, width: 1.2},
        title: {display: true, text: 'Conditions included', font: {size: 14}, color: '#000', padding: 0}
      },
      y: {
        type: 'linear', min: -1.25, max: 26.25,
        afterBuildTicks: s => { s.ticks = overlapTicks.map(v => ({value: v})); },
        afterFit: s => { s.width = oB.yW; },
        ticks: {autoSkip: false, padding: 4, font: {size: 11}, color: TXT},
        grid: {drawOnChartArea: false, tickLength: 3, color: AXIS},
        border: {color: AXIS, width: 1.2},
        title: {display: true, text: 'Cumulative number of overlaps', font: {size: 14.5}, color: '#000', padding: {top: 11.5, bottom: 0}}
      }
    },
    plugins: {legend: {display: false}, tooltip: {enabled: false}, legendDeco: {kind: 'line', y: 13, xs: [76, 154], txs: [99, 178]}}
  }),
  plugins: [legendDeco]
});

// ---------- panel c : association tracks ----------
const oQ = {yW: 22, padT: 12, padR: 21, padB: 12, xH: 0};
function manhattan(area, pts, strip) {
  const sorted = pts.slice().sort((p, q) => p[2] - q[2]);
  new Chart(mkCanvas(area, oQ), {
    type: 'scatter',
    data: {datasets: [{
      data: sorted.map(p => ({x: kb(p[0]), y: p[1]})),
      backgroundColor: sorted.map(p => ldColour(p[2])),
      borderWidth: 0, pointRadius: 2.6
    }]},
    options: Object.assign(baseOpts(oQ), {
      scales: {
        x: {type: 'linear', min: X_MIN, max: X_MAX, display: false},
        y: yAxis(-0.4, 7.5, logpTicks, oQ.yW)
      },
      plugins: {legend: {display: false}, tooltip: {enabled: false},
        panelDeco: {border: '#cccccc', stripW: 20, stripGap: 0, strip: strip, vline: snpPos}}
    }),
    plugins: [panelDeco]
  });
}
manhattan([357, 40, 594, 102], gwasSLE, 'SLE');
manhattan([357, 108, 594, 170], caqtlN, 'N');
manhattan([357, 175, 594, 238], caqtlIS, 'I+S');
manhattan([357, 244, 594, 307], eqtlN, 'N');
manhattan([357, 312, 594, 375], eqtlIS, 'I+S');

function atacTrack(area, gg, ag, aa, strip) {
  const mk = (vals, col, lab, ord) => ({
    label: lab, data: atacPos.map((p, i) => ({x: kb(p), y: vals[i]})),
    borderColor: col, backgroundColor: col, fill: 'origin', borderWidth: 0.8, pointRadius: 0, tension: 0, order: ord
  });
  new Chart(mkCanvas(area, oQ), {
    type: 'line',
    data: {datasets: [mk(aa, AA_COL, 'AA', 0), mk(ag, AG_COL, 'AG', 1), mk(gg, GG_COL, 'GG', 2)]},
    options: Object.assign(baseOpts(oQ), {
      scales: {
        x: {type: 'linear', min: X_MIN, max: X_MAX, display: false},
        y: yAxis(-0.45, 9.15, fpmTicks, oQ.yW, v => v.toFixed(1))
      },
      plugins: {legend: {display: false}, tooltip: {enabled: false},
        panelDeco: {border: '#cccccc', stripW: 20, stripGap: 0, strip: strip}}
    }),
    plugins: [panelDeco]
  });
}
atacTrack([357, 383, 594, 446], atacN_GG, atacN_AG, atacN_AA, 'N');
atacTrack([357, 452, 594, 512], atacIS_GG, atacIS_AG, atacIS_AA, 'I+S');

// transcript track with the position axis
const GENE_DARK = '#3a80bf', GENE_LIGHT = '#a8d5ee';
const oG = {yW: 0, padT: 2, padR: 21, padB: 0, xH: 33};
const exonSegs = list => list.flatMap(e => [{x: kb(e), y: 0.25}, {x: kb(e), y: 0.7}, {x: kb(e), y: null}]);
new Chart(mkCanvas([357, 517, 594, 571], oG), {
  type: 'line',
  data: {datasets: [
    {data: [{x: kb(codingSpan[0]), y: 0.47}, {x: kb(codingSpan[1]), y: 0.47}], borderColor: GENE_DARK, borderWidth: 1.3},
    {data: [{x: kb(otherSpan[0]), y: 0.47}, {x: kb(otherSpan[1]), y: 0.47}], borderColor: GENE_LIGHT, borderWidth: 1.3},
    {data: exonSegs(codingExons), borderColor: GENE_DARK, borderWidth: 1.6, spanGaps: false},
    {data: exonSegs(otherExons), borderColor: GENE_LIGHT, borderWidth: 1.4, spanGaps: false},
    {data: [{x: kb(utrBox[0]), y: 0.7}, {x: kb(utrBox[1]), y: 0.7}], borderColor: GENE_LIGHT, backgroundColor: GENE_LIGHT,
     fill: {value: 0.25}, borderWidth: 1}
  ].map(d => Object.assign({pointRadius: 0, tension: 0}, d))},
  options: Object.assign(baseOpts(oG), {
    scales: {
      x: {
        type: 'linear', min: X_MIN, max: X_MAX,
        afterBuildTicks: s => { s.ticks = posTicks.map(v => ({value: v})); },
        afterFit: s => { s.height = oG.xH; },
        ticks: {autoSkip: false, maxRotation: 0, padding: 2, font: {size: 10.5}, color: TXT, callback: v => String(v)},
        grid: {drawOnChartArea: false, tickLength: 3, color: TICK},
        border: {display: false},
        title: {display: true, text: 'Chromosome 8 position (bp)', font: {size: 14}, color: '#000', padding: 0}
      },
      y: {type: 'linear', min: 0, max: 1, display: false}
    },
    plugins: {legend: {display: false}, tooltip: {enabled: false},
      panelDeco: {border: '#cccccc', stripW: 20, stripGap: 0}}
  }),
  plugins: [panelDeco]
});

// ---------- boxplots ----------
function boxChart(area, o, stats, pts, col, strip, yMin, yMax, yTicks, showX) {
  const x = showX ? {
    type: 'linear', min: 0.4, max: 3.6, offset: false,
    afterBuildTicks: s => { s.ticks = genotypes.map((g, i) => ({value: i + 1})); },
    afterFit: s => { s.height = o.xH; },
    ticks: {autoSkip: false, maxRotation: 0, padding: 1, font: {size: 10.5}, color: TXT, callback: v => genotypes[v - 1]},
    grid: {offset: false, drawOnChartArea: false, tickLength: 3, color: TICK},
    border: {display: false},
    title: {display: true, text: snpName, font: {size: 13}, color: '#000', padding: 0}
  } : {type: 'linear', min: 0.4, max: 3.6, offset: false, display: false};
  new Chart(mkCanvas(area, o), {
    type: 'bar',
    data: {datasets: [
      {type: 'scatter', data: pts.flatMap((g, gi) => g.map(p => ({x: gi + 1 + p[0], y: p[1]}))),
       backgroundColor: col, borderWidth: 0, pointRadius: 1.5, order: 0},
      {type: 'scatter', data: stats.map((s, i) => ({x: i + 1, y: s[2]})),
       pointStyle: 'line', pointRadius: 11, borderColor: col, borderWidth: 2, order: 1},
      {type: 'bar', data: stats.map((s, i) => ({x: i + 1, y: [s[1], s[3]]})), grouped: false,
       backgroundColor: 'rgba(255,255,255,0.92)', borderColor: col, borderWidth: 1.3, borderSkipped: false, barThickness: 22, order: 2},
      {type: 'bar', data: stats.map((s, i) => ({x: i + 1, y: [s[0], s[4]]})), grouped: false,
       backgroundColor: col, borderWidth: 0, barThickness: 1.3, order: 3}
    ]},
    options: Object.assign(baseOpts(o), {
      scales: {x: x, y: yAxis(yMin, yMax, yTicks, o.yW, v => v.toFixed(1))},
      plugins: {legend: {display: false}, tooltip: {enabled: false},
        panelDeco: {border: '#cccccc', stripW: 17, stripGap: 3, strip: strip}}
    }),
    plugins: [panelDeco]
  });
}
const caTicks = [2.5, 3.0, 3.5, 4.0, 4.5];
const exTicks = [10.5, 11.0, 11.5, 12.0, 12.5, 13.0, 13.5];
boxChart([683, 44, 773, 121], {yW: 28, padT: 10, padR: 21, padB: 10, xH: 0}, caBoxN, caPtsN, N_COL, 'N', 2.18, 4.66, caTicks, false);
boxChart([683, 127, 773, 205], {yW: 28, padT: 10, padR: 21, padB: 0, xH: 30}, caBoxIS, caPtsIS, IS_COL, 'I+S', 2.18, 4.66, caTicks, true);
boxChart([686, 272, 772, 354], {yW: 31, padT: 10, padR: 21, padB: 10, xH: 0}, exBoxN, exPtsN, N_COL, 'N', 10.47, 13.53, exTicks, false);
boxChart([686, 359, 772, 441], {yW: 31, padT: 10, padR: 21, padB: 0, xH: 34}, exBoxIS, exPtsIS, IS_COL, 'I+S', 10.47, 13.53, exTicks, true);

// ---------- text ----------
label('a', 12, 15, {size: 20});
label('b', 11, 338, {size: 20});
label('c', 327, 18, {size: 20});
label(snpName + ': G/A', 512, 13, {size: 14, align: 'left'});
label('SLE GWAS', 365, 51, {size: 17.5, align: 'left'});
label('caQTL variants', 365, 119, {size: 17.5, align: 'left'});
label('eQTL variants', 363, 254, {size: 17.5, align: 'left'});
label('ATAC-seq', 365, 391, {size: 17.5, align: 'left'});
label('GG', 546, 391, {size: 15, bold: true, color: GG_COL});
label('AG', 546, 409, {size: 15, bold: true, color: AG_COL});
label('AA', 546, 427, {size: 15, bold: true, color: AA_COL});
label(geneName, 368, 527, {size: 13, align: 'left'});
label('\u2212log<sub>10</sub> p\u2212value', 326, 172, {size: 13, rot: -90, html: true});
label('\u2212log<sub>10</sub> p\u2212value', 326, 308, {size: 13, rot: -90, html: true});
label('FPM', 326, 460, {size: 13, rot: -90});
label('Chromatin accessibility', 649, 123, {size: 13, rot: -90});
label('<i>CTSB</i> expression', 645, 356, {size: 13, rot: -90, html: true});
</script>
</body>
</html>
